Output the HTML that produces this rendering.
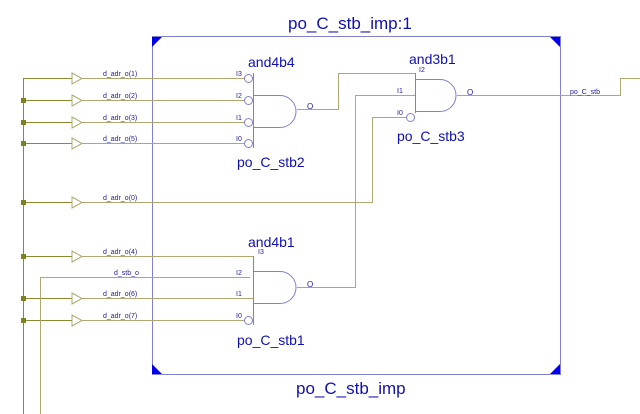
<!DOCTYPE html>
<html><head><style>body{margin:0;background:#fff}svg{display:block}</style></head><body>
<svg width="640" height="414" viewBox="0 0 640 414" xmlns="http://www.w3.org/2000/svg" font-family="Liberation Sans, sans-serif">
<g fill="none" stroke-width="1">
<!-- box -->
<rect x="152.5" y="36.5" width="408" height="338" stroke="#8080cc"/>
</g>
<polygon points="152,37 162,37 152,47" fill="#0000ee"/>
<polygon points="560,37 550,37 560,47" fill="#0000ee"/>
<polygon points="152,374 162,374 152,364" fill="#0000ee"/>
<polygon points="560,374 550,374 560,364" fill="#0000ee"/>
<g fill="none" stroke="#b0a870" stroke-width="1">
<!-- bus -->
<path d="M23.5,414 V78.5 H72" stroke="#8a8a30"/>
<path d="M23.5,100.5 H72 M23.5,122.5 H72 M23.5,143.5 H72 M23.5,202.5 H72 M23.5,256.5 H72 M23.5,298.5 H72 M23.5,320.5 H72" stroke="#8a8a30"/>
<path d="M40.5,414 V277.5 H250"/>
<!-- buffer outputs -->
<path d="M82,78.5 H244 M82,100.5 H244 M82,122.5 H244 M82,143.5 H244 M82,202.5 H372.5 V117.5 H406 M82,256.5 H253 M82,298.5 H253 M82,320.5 H244"/>
<!-- and4b4 output -->
<path d="M297,109.5 H338.5 V73.5 H415"/>
<!-- and4b1 output -->
<path d="M297,287.5 H355.5 V95.5 H415"/>
<!-- and3b1 output -->
<path d="M457,95.5 H620.5 V78.5 H640"/>
</g>
<!-- buffers -->
<g fill="#fff" stroke="#b0a870">
<polygon points="72,73 82,78.5 72,84"/><polygon points="72,95 82,100.5 72,106"/><polygon points="72,117 82,122.5 72,128"/><polygon points="72,138 82,143.5 72,149"/><polygon points="72,197 82,202.5 72,208"/><polygon points="72,251 82,256.5 72,262"/><polygon points="72,293 82,298.5 72,304"/><polygon points="72,315 82,320.5 72,326"/>
</g>
<g fill="#808020"><rect x="21" y="98" width="5" height="5"/><rect x="21" y="120" width="5" height="5"/><rect x="21" y="141" width="5" height="5"/><rect x="21" y="200" width="5" height="5"/><rect x="21" y="254" width="5" height="5"/><rect x="21" y="296" width="5" height="5"/><rect x="21" y="318" width="5" height="5"/></g>
<!-- gates -->
<g fill="none" stroke="#8080cc">
<path d="M253.5,73 V148"/>
<path d="M253.5,95.5 H280 A16,16 0 0 1 280,127.5 H253.5"/>
<circle cx="248.5" cy="78.5" r="4" fill="#fff"/><circle cx="248.5" cy="100.5" r="4" fill="#fff"/><circle cx="248.5" cy="122.5" r="4" fill="#fff"/><circle cx="248.5" cy="143.5" r="4" fill="#fff"/>
<path d="M253.5,256 V325"/>
<path d="M253.5,271.5 H280 A16,16 0 0 1 280,303.5 H253.5"/>
<circle cx="248.5" cy="320.5" r="4" fill="#fff"/>
<path d="M415.5,73 V113"/>
<path d="M415.5,79.5 H440 A16,16 0 0 1 440,111.5 H415.5"/>
<circle cx="410.5" cy="117.5" r="4" fill="#fff"/>
</g>
<g fill="#2020a0" font-size="7">
<text x="103" y="76">d_adr_o(1)</text><text x="103" y="98">d_adr_o(2)</text><text x="103" y="120">d_adr_o(3)</text><text x="103" y="141">d_adr_o(5)</text><text x="103" y="200">d_adr_o(0)</text><text x="103" y="254">d_adr_o(4)</text><text x="114" y="275">d_stb_o</text><text x="103" y="296">d_adr_o(6)</text><text x="103" y="318">d_adr_o(7)</text>
<text x="236" y="76">I3</text><text x="236" y="98">I2</text><text x="236" y="120">I1</text><text x="236" y="141">I0</text>
<text x="258" y="254">I3</text><text x="236" y="275">I2</text><text x="236" y="296">I1</text><text x="236" y="318">I0</text>
<text x="419" y="72">I2</text><text x="397" y="93">I1</text><text x="397" y="115">I0</text>
<text x="307" y="109" font-size="8">O</text><text x="307" y="287" font-size="8">O</text><text x="467" y="95" font-size="8">O</text>
<text x="570" y="94">po_C_stb</text>
</g>
<g fill="#1010b0" font-size="14">
<text x="248" y="67">and4b4</text><text x="237" y="167">po_C_stb2</text>
<text x="248" y="247">and4b1</text><text x="237" y="345">po_C_stb1</text>
<text x="409" y="64">and3b1</text><text x="397" y="141">po_C_stb3</text>
</g>
<g fill="#1010b0" font-size="17">
<text x="288" y="29">po_C_stb_imp:1</text><text x="296" y="394">po_C_stb_imp</text>
</g>
</svg>
</body></html>
